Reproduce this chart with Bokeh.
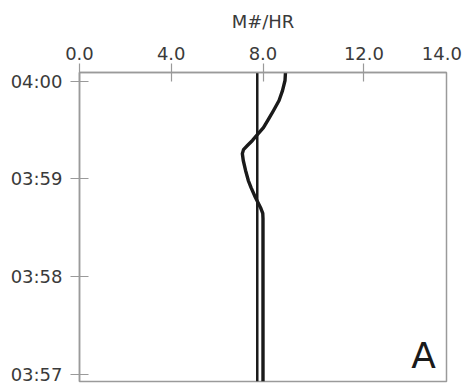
from bokeh.plotting import figure
from bokeh.models import FixedTicker, Range1d, Label
from bokeh.embed import file_html
from bokeh.resources import INLINE

# ---- data ----
time_ticks = [0, 60, 120, 180]            # seconds after 03:57:00
time_labels = ["03:57", "03:58", "03:59", "04:00"]
rate_ticks = [0, 4, 8, 12.4, 15.8]
rate_labels = ["0.0", "4.0", "8.0", "12.0", "14.0"]
rate_tick_marks = [0, 4, 8, 12.4]

# straight series
line_a_x = [7.75, 7.75]
line_a_t = [-4.3, 185.3]

# second series (straight at bottom, wavy near 04:00)
curve_t = [185.3, 180.4, 174.2, 168.1, 162.0, 157.1, 151.5, 147.9, 143.6, 140.5,
           138.0, 135.5, 131.3, 125.2, 119.0, 114.7, 108.6, 102.5, 98.8, 95.7, -4.3]
curve_x = [8.98, 8.96, 8.85, 8.70, 8.46, 8.26, 8.02, 7.80, 7.54, 7.32,
           7.15, 7.10, 7.14, 7.24, 7.36, 7.48, 7.67, 7.89, 7.99, 8.0, 8.0]

FONT = "DejaVu Sans"
TXT = "#3a3a3a"
GRAY = "#9a9a9a"
INK = "#1a1a1a"

p = figure(width=463, height=385,
           x_range=Range1d(0, 16), y_range=Range1d(-4.3, 185.3),
           x_axis_location="above",
           output_backend="svg", toolbar_location=None,
           min_border_left=79, min_border_right=17,
           min_border_top=72, min_border_bottom=4)

p.grid.visible = False
p.outline_line_color = GRAY
p.outline_line_width = 1.5
p.background_fill_color = "white"
p.border_fill_color = "white"

xa = p.xaxis[0]
xa.ticker = FixedTicker(ticks=rate_ticks, minor_ticks=rate_tick_marks)
xa.major_label_overrides = {t: l for t, l in zip(rate_ticks, rate_labels)}
xa.axis_label = "M#/HR"
xa.axis_label_text_font = FONT
xa.axis_label_text_font_size = "18px"
xa.axis_label_text_font_style = "normal"
xa.axis_label_text_color = TXT
xa.axis_label_standoff = 12
xa.major_label_standoff = 4
xa.major_tick_line_color = None
xa.major_tick_out = 0
xa.major_tick_in = 0
xa.minor_tick_line_color = GRAY
xa.minor_tick_line_width = 1.2
xa.minor_tick_out = 9
xa.minor_tick_in = 9

ya = p.yaxis[0]
ya.ticker = FixedTicker(ticks=time_ticks)
ya.major_label_overrides = {t: l for t, l in zip(time_ticks, time_labels)}
ya.major_label_standoff = 8
ya.major_tick_line_color = GRAY
ya.major_tick_line_width = 1.2
ya.major_tick_out = 9
ya.major_tick_in = 9
ya.minor_tick_line_color = None

for ax in (xa, ya):
    ax.axis_line_color = GRAY
    ax.axis_line_width = 1.5
    ax.major_label_text_font = FONT
    ax.major_label_text_font_size = "18px"
    ax.major_label_text_color = TXT

p.line(line_a_x, line_a_t, line_color=INK, line_width=2.5)
p.line(curve_x, curve_t, line_color=INK, line_width=3.4, line_join="round")

p.add_layout(Label(x=15.0, y=-1.2, text="A", text_align="center",
                   text_baseline="bottom", text_font=FONT,
                   text_font_size="36px", text_color=INK))

open("out.html", "w").write(file_html(p, INLINE))
